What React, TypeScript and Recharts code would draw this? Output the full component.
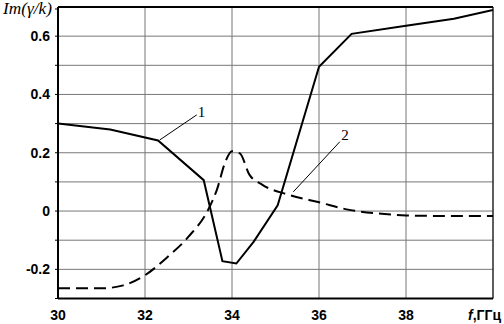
import React from "react";
import {
  LineChart,
  Line,
  XAxis,
  YAxis,
  CartesianGrid,
  ReferenceLine,
  ReferenceDot,
} from "recharts";

// Curve 1 (solid)
const freqs1 = [30, 31.2, 32.3, 33.35, 33.78, 34.1, 34.5, 35.05, 36, 36.75, 38, 39.1, 40];
const im1 = [0.3, 0.28, 0.242, 0.106, -0.172, -0.18, -0.105, 0.02, 0.495, 0.608, 0.636, 0.66, 0.69];

// Curve 2 (dashed)
const freqs2 = [30, 31, 31.5, 32, 32.5, 33, 33.45, 33.65, 33.85, 34.0, 34.18, 34.4, 34.7, 35.3, 36, 36.7, 37.5, 38, 39, 40];
const im2 = [-0.265, -0.265, -0.255, -0.22, -0.16, -0.088, 0.004, 0.072, 0.17, 0.205, 0.198, 0.125, 0.09, 0.056, 0.03, 0.004, -0.01, -0.015, -0.017, -0.017];

const xTicks = [30, 32, 34, 36, 38, 40];
const yTicks = [-0.3, -0.2, -0.1, 0, 0.1, 0.2, 0.3, 0.4, 0.5, 0.6, 0.7];
const yLabeled = ["-0.2", "0", "0.2", "0.4", "0.6"];

// Annotations: leader lines and curve numbers
const leader1 = [{ x: 32.34, y: 0.244 }, { x: 33.19, y: 0.33 }];
const label1 = { x: 33.3, y: 0.341, text: "1" };
const leader2 = [{ x: 35.41, y: 0.066 }, { x: 36.48, y: 0.238 }];
const label2 = { x: 36.6, y: 0.261, text: "2" };

const data1 = freqs1.map((f, i) => ({ f, v: im1[i] }));
const data2 = freqs2.map((f, i) => ({ f, v: im2[i] }));

const tickFont = "'Liberation Sans', Arial, sans-serif";
const serif = "'Liberation Serif', 'Times New Roman', serif";

const fmt = (v: number) => {
  const r = Math.round(v * 10) / 10;
  if (Math.abs(r) < 1e-9) return "0";
  return r.toFixed(1);
};

const XTick = (props: any) => {
  const { x, y, payload } = props;
  const v = payload.value;
  if (v === 40) {
    return (
      <text x={501} y={y + 21} textAnchor="end" fontFamily={tickFont} fontSize={14} fontWeight="bold" fill="#000">
        <tspan fontStyle="italic">f</tspan>
        <tspan>,ГГц</tspan>
      </text>
    );
  }
  return (
    <text x={x} y={y + 21} textAnchor="middle" fontFamily={tickFont} fontSize={14} fontWeight="bold" fill="#000">
      {String(v)}
    </text>
  );
};

const YTick = (props: any) => {
  const { x, y, payload } = props;
  const s = fmt(payload.value);
  return (
    <g>
      <line x1={x - 3} x2={x} y1={y} y2={y} stroke="#000" strokeWidth={1} />
      {yLabeled.includes(s) && (
        <text x={x - 8} y={y + 5} textAnchor="end" fontFamily={tickFont} fontSize={14} fontWeight="bold" fill="#000">
          {s}
        </text>
      )}
    </g>
  );
};

const NumLabel = (text: string) => (props: any) => {
  const { viewBox } = props;
  return (
    <text x={viewBox.x} y={viewBox.y + 5} textAnchor="middle" fontFamily={serif} fontSize={15} fill="#000">
      {text}
    </text>
  );
};

export default function App() {
  return (
    <div style={{ position: "absolute", left: 0, top: 0, width: 504, height: 324, background: "#fff" }}>
      <LineChart width={504} height={324} margin={{ top: 7, right: 11, left: 0, bottom: 0 }}>
        <CartesianGrid stroke="#777" strokeWidth={1} />
        <XAxis
          type="number"
          dataKey="f"
          domain={[30, 40]}
          ticks={xTicks}
          height={25.5}
          tickSize={0}
          tickMargin={0}
          tickLine={false}
          axisLine={{ stroke: "#000", strokeWidth: 2 }}
          tick={<XTick />}
          allowDataOverflow
        />
        <YAxis
          type="number"
          domain={[-0.3, 0.7]}
          ticks={yTicks}
          width={58}
          tickSize={0}
          tickMargin={0}
          tickLine={false}
          axisLine={{ stroke: "#000", strokeWidth: 2 }}
          tick={<YTick />}
          allowDataOverflow
          label={{
            content: () => (
              <text x={3} y={14} fontFamily={serif} fontStyle="italic" fontSize={17} textLength={49} lengthAdjust="spacingAndGlyphs" fill="#000">
                Im(γ/k)
              </text>
            ),
          }}
        />
        <ReferenceLine y={0.7} stroke="#000" strokeWidth={2} />
        <ReferenceLine x={40} stroke="#000" strokeWidth={1} />
        <ReferenceLine segment={leader1} stroke="#000" strokeWidth={1} />
        <ReferenceLine segment={leader2} stroke="#000" strokeWidth={1} />
        <ReferenceDot x={label1.x} y={label1.y} r={0} stroke="none" label={{ content: NumLabel(label1.text) }} />
        <ReferenceDot x={label2.x} y={label2.y} r={0} stroke="none" label={{ content: NumLabel(label2.text) }} />
        <Line
          data={data1}
          dataKey="v"
          type="linear"
          stroke="#000"
          strokeWidth={2}
          dot={false}
          isAnimationActive={false}
        />
        <Line
          data={data2}
          dataKey="v"
          type="monotone"
          stroke="#000"
          strokeWidth={2}
          strokeDasharray="12 6"
          dot={false}
          isAnimationActive={false}
        />
      </LineChart>
    </div>
  );
}
